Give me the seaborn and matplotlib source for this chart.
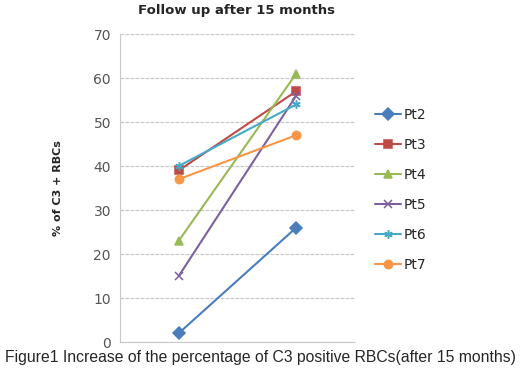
import seaborn as sns
import matplotlib.pyplot as plt
import pandas as pd

# values
patients = ['Pt2', 'Pt3', 'Pt4', 'Pt5', 'Pt6', 'Pt7']
before = [2, 39, 23, 15, 40, 37]
after = [26, 57, 61, 56, 54, 47]

colors = ['#4A7EBB', '#BE4B48', '#98B954', '#7D60A0', '#46AAC5', '#F79646']
markers = ['D', 's', '^', 'x', (6, 2, 0), 'o']

sns.set_style('white')
fig = plt.figure(figsize=(5.2, 3.77), dpi=100)
ax = fig.add_axes([120 / 520, 1 - 342 / 377, 235 / 520, 308 / 377])

# one call per patient so filled and line markers can be mixed
for p, b, a, c, m in zip(patients, before, after, colors, markers):
    d = pd.DataFrame({'x': [0, 1], 'val': [b, a]})
    sns.lineplot(data=d, x='x', y='val', color=c, marker=m, label=p,
                 markersize=6, linewidth=1.5, markeredgewidth=1.1,
                 markeredgecolor=c, ax=ax)

ax.set_xlim(-0.5, 1.5)
ax.set_ylim(0, 70)
ax.set_yticks(range(0, 71, 10))
ax.set_xticks([])
ax.set_xlabel('')
ax.set_ylabel('% of C3 + RBCs', fontsize=8, fontweight='bold', labelpad=22)
ax.tick_params(axis='y', labelsize=10, labelcolor='#555555', length=3, color='#aaaaaa')
ax.yaxis.grid(True, color='#c8c8c8', linewidth=0.9, linestyle=(0, (3, 1)))
ax.set_axisbelow(True)
for s in ['top', 'right']:
    ax.spines[s].set_visible(False)
ax.spines['left'].set_color('#c8c8c8')
ax.spines['left'].set_linestyle((0, (3, 1)))
ax.spines['bottom'].set_color('#c8c8c8')
ax.spines['bottom'].set_linestyle((0, (3, 1)))

ax.legend(loc='upper left', bbox_to_anchor=(1.03, 0.80), frameon=False,
          fontsize=10, handlelength=1.9, handletextpad=0.2, labelspacing=1.15)

fig.text(237 / 520, 0.972, 'Follow up after 15 months', ha='center', va='center',
         fontsize=9.5, fontweight='bold')
fig.text(0.5, 0.053, 'Figure1 Increase of the percentage of C3 positive RBCs(after 15 months)',
         ha='center', va='center', fontsize=11.3, family='Liberation Sans')

fig.savefig('out.png', dpi=100)
